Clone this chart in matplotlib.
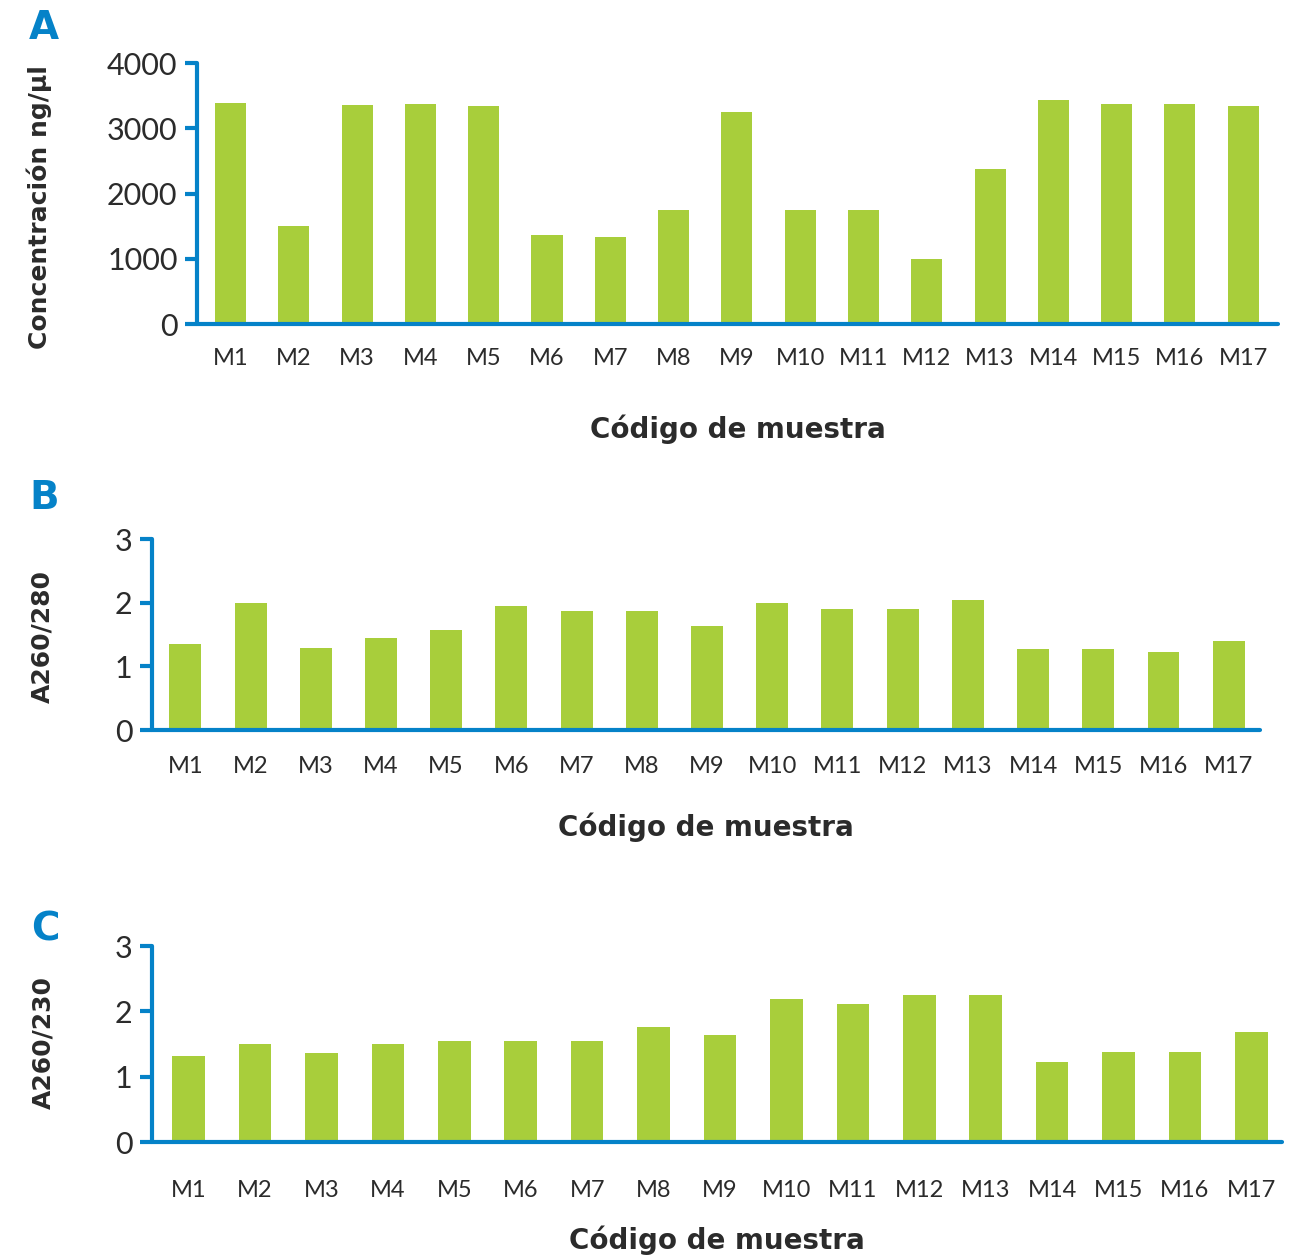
import numpy as np
from matplotlib import pyplot as plt

muestras = ["M%d" % i for i in range(1, 18)]
concentracion = [3380, 1500, 3360, 3375, 3345, 1365, 1335, 1750, 3250, 1750,
                 1750, 1000, 2380, 3435, 3375, 3375, 3345]
a260_280 = [1.35, 1.99, 1.29, 1.44, 1.57, 1.95, 1.87, 1.87, 1.63, 1.99,
            1.90, 1.90, 2.04, 1.27, 1.27, 1.22, 1.40]
a260_230 = [1.32, 1.50, 1.36, 1.50, 1.55, 1.55, 1.55, 1.76, 1.64, 2.19,
            2.11, 2.25, 2.25, 1.23, 1.38, 1.38, 1.68]

verde = "#A8CE3B"
azul = "#0582C8"
gris = "#2b2b2b"
plt.rcParams["font.family"] = ["Lato", "DejaVu Sans"]
negrita = ["DejaVu Sans"]

fig = plt.figure(figsize=(13.03, 12.58), dpi=100)

# letra, datos, etiqueta y, posicion, ylim, yticks, xlim, letra x/y, pad ticks x, pad xlabel, coords ylabel
paneles = [
    ("A", concentracion, "Concentración ng/µl", [0.1512, 0.7424, 0.8296, 0.2075],
     (0, 4000), [0, 1000, 2000, 3000, 4000], (-0.53, 16.55), 0.034, 0.978, 17, 33, (-0.134, 0.45)),
    ("B", a260_280, "A260/280", [0.1167, 0.4197, 0.8503, 0.1518],
     (0, 3), [0, 1, 2, 3], (-0.51, 16.48), 0.034, 0.604, 19, 25, (-0.088, 0.49)),
    ("C", a260_230, "A260/230", [0.1167, 0.0922, 0.8672, 0.1558],
     (0, 3), [0, 1, 2, 3], (-0.55, 16.46), 0.035, 0.261, 27, 18, (-0.086, 0.51)),
]

x = np.arange(len(muestras))
for letra, vals, ylab, pos, ylim, yt, xlim, lx, ly, xpad, lpad, ycoords in paneles:
    ax = fig.add_axes(pos)
    ax.bar(x, vals, width=0.49, color=verde)
    ax.set_ylim(*ylim)
    ax.set_xlim(*xlim)
    ax.set_yticks(yt)
    ax.set_xticks(x)
    ax.set_xticklabels(muestras)
    for s in ["top", "right"]:
        ax.spines[s].set_visible(False)
    for s in ["left", "bottom"]:
        ax.spines[s].set_color(azul)
        ax.spines[s].set_linewidth(3)
        ax.spines[s].set_capstyle("round")
    ax.tick_params(axis="y", colors=azul, width=3, length=9, labelcolor=gris,
                   labelsize=22, pad=5)
    ax.tick_params(axis="x", length=0, labelcolor=gris, labelsize=17, pad=xpad)
    ax.set_xlabel("Código de muestra", fontsize=20, fontweight="bold", color=gris,
                  family=negrita, labelpad=lpad)
    ax.set_ylabel(ylab, fontsize=18, fontweight="bold", color=gris, family=negrita)
    ax.yaxis.set_label_coords(*ycoords)
    fig.text(lx, ly, letra, fontsize=28, fontweight="bold", color=azul,
             family=negrita, ha="center", va="center")

plt.savefig("out.png", dpi=100)
